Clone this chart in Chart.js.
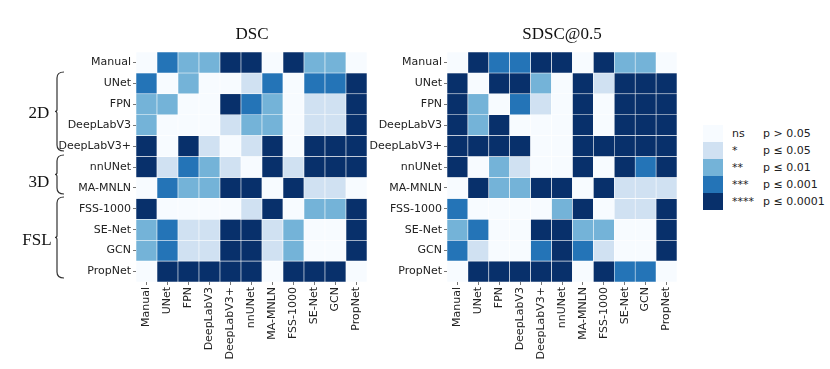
<!DOCTYPE html>
<html>
<head>
<meta charset="utf-8">
<script src="https://cdn.jsdelivr.net/npm/chart.js@4.4.0/dist/chart.umd.min.js"></script>
<style>
body{margin:0;background:#fff;width:830px;height:369px;position:relative;overflow:hidden;font-family:"DejaVu Sans",sans-serif;}
canvas{position:absolute;top:0;}
.title{position:absolute;font-family:"Liberation Serif",serif;font-size:17px;color:#111;transform:translate(-50%,-50%);white-space:nowrap;}
.grp{position:absolute;font-family:"Liberation Serif",serif;font-size:17px;color:#111;transform:translate(-50%,-50%);}
.leg{position:absolute;left:703px;font-size:11px;color:#222;}
.leg span{position:absolute;white-space:nowrap;}
.sw{width:20px;height:17px;}
svg{position:absolute;left:0;top:0;}
</style>
</head>
<body>
<canvas id="dsc" width="380" height="369" style="left:0px"></canvas>
<canvas id="sdsc" width="330" height="369" style="left:360px"></canvas>
<div class="title" style="left:252px;top:34px">DSC</div>
<div class="title" style="left:562px;top:34px">SDSC@0.5</div>
<svg width="100" height="369" id="braces"></svg>
<div class="grp" style="left:39px;top:113px">2D</div>
<div class="grp" style="left:39px;top:182px">3D</div>
<div class="grp" style="left:37px;top:240px">FSL</div>
<div id="legend"></div>
<script>
// models (rows and columns are the same list)
const models=['Manual','UNet','FPN','DeepLabV3','DeepLabV3+','nnUNet','MA-MNLN','FSS-1000','SE-Net','GCN','PropNet'];

// significance level per cell: 0=ns, 1=*, 2=**, 3=***, 4=****
const dscLevels=[
	[0,3,2,2,4,4,0,4,2,2,0],
	[3,0,2,0,0,1,3,0,3,3,4],
	[2,2,0,0,4,3,2,0,1,1,4],
	[2,0,0,0,1,2,2,0,1,1,4],
	[4,0,4,1,0,1,4,0,4,4,4],
	[4,1,3,2,1,0,4,1,4,4,4],
	[0,3,2,2,4,4,0,4,1,1,0],
	[4,0,0,0,0,1,4,0,2,2,4],
	[2,3,1,1,4,4,1,2,0,0,4],
	[2,3,1,1,4,4,1,2,0,0,4],
	[0,4,4,4,4,4,0,4,4,4,0]
];
const sdscLevels=[
	[0,4,3,3,4,4,0,4,2,2,0],
	[4,0,4,4,2,0,4,1,4,4,4],
	[4,2,0,3,1,0,4,0,4,4,4],
	[4,2,4,0,0,0,4,0,4,4,4],
	[4,4,4,4,0,0,4,4,4,4,4],
	[4,0,2,1,0,0,4,0,4,3,4],
	[0,4,2,2,4,4,0,4,1,1,1],
	[3,0,0,0,0,2,4,0,1,1,4],
	[2,3,0,0,4,4,2,2,0,0,4],
	[3,1,0,0,3,4,3,1,0,0,4],
	[0,4,4,4,4,4,0,4,3,3,0]
];

const stars=['ns','*','**','***','****'];
const pLabels=['p > 0.05','p \u2264 0.05','p \u2264 0.01','p \u2264 0.001','p \u2264 0.0001'];
const blues=['#f7fbff','#d0e1f2','#74b3d8','#2474b7','#08306b'];

function heatmap(id,levels,yWidth){
	const datasets=levels.map(function(row,i){
		return {
			label:models[i],
			data:row.map(()=>1),
			backgroundColor:row.map(l=>blues[l]),
			borderColor:'#ffffff',
			borderWidth:0.6,
			borderSkipped:false,
			barPercentage:1,
			categoryPercentage:1
		};
	});
	return new Chart(document.getElementById(id).getContext('2d'),{
		type:'bar',
		data:{labels:models,datasets:datasets},
		options:{
			responsive:false,
			animation:false,
			devicePixelRatio:1,
			layout:{padding:{top:52,right:13,bottom:0,left:0}},
			plugins:{legend:{display:false},tooltip:{enabled:false}},
			scales:{
				x:{
					stacked:true,
					offset:true,
					grid:{display:true,drawOnChartArea:false,offset:false,tickLength:3,color:'#777'},
					border:{display:false},
					ticks:{autoSkip:false,maxRotation:90,minRotation:90,padding:2,color:'#222',font:{family:'DejaVu Sans',size:11}},
					afterFit:function(s){s.height=87;}
				},
				y:{
					type:'linear',
					stacked:true,
					reverse:true,
					min:0,
					max:11,
					grid:{display:true,drawOnChartArea:false,tickLength:3,color:'#777'},
					border:{display:false},
					afterBuildTicks:function(s){s.ticks=models.map((m,i)=>({value:i+0.5}));},
					ticks:{autoSkip:false,padding:2,color:'#222',font:{family:'DejaVu Sans',size:11},
						callback:function(v){return models[Math.floor(v)];}},
					afterFit:function(s){s.width=yWidth;}
				}
			}
		}
	});
}

heatmap('dsc',dscLevels,136);
heatmap('sdsc',sdscLevels,87);

// legend
const legend=document.getElementById('legend');
stars.forEach(function(s,i){
	const top=125+i*17;
	const row=document.createElement('div');
	row.className='leg';
	row.style.top=top+'px';
	row.innerHTML='<div class="sw" style="background:'+blues[i]+'"></div>'+
		'<span style="left:29px;top:2px">'+s+'</span>'+
		'<span style="left:60px;top:2px">'+pLabels[i]+'</span>';
	legend.appendChild(row);
});

// group braces on the left
const groups=[[72,151],[155,194],[197,278]];
const svg=document.getElementById('braces');
groups.forEach(function(g){
	const y1=g[0],y2=g[1],ym=(y1+y2)/2,x=57,xe=64;
	const d='M '+xe+' '+y1+' Q '+x+' '+y1+' '+x+' '+(y1+6)+
		' L '+x+' '+(ym-2)+' Q '+x+' '+ym+' '+(x-2)+' '+ym+
		' Q '+x+' '+ym+' '+x+' '+(ym+2)+
		' L '+x+' '+(y2-6)+' Q '+x+' '+y2+' '+xe+' '+y2;
	const p=document.createElementNS('http://www.w3.org/2000/svg','path');
	p.setAttribute('d',d);
	p.setAttribute('fill','none');
	p.setAttribute('stroke','#333');
	p.setAttribute('stroke-width','1.2');
	svg.appendChild(p);
});
</script>
</body>
</html>
